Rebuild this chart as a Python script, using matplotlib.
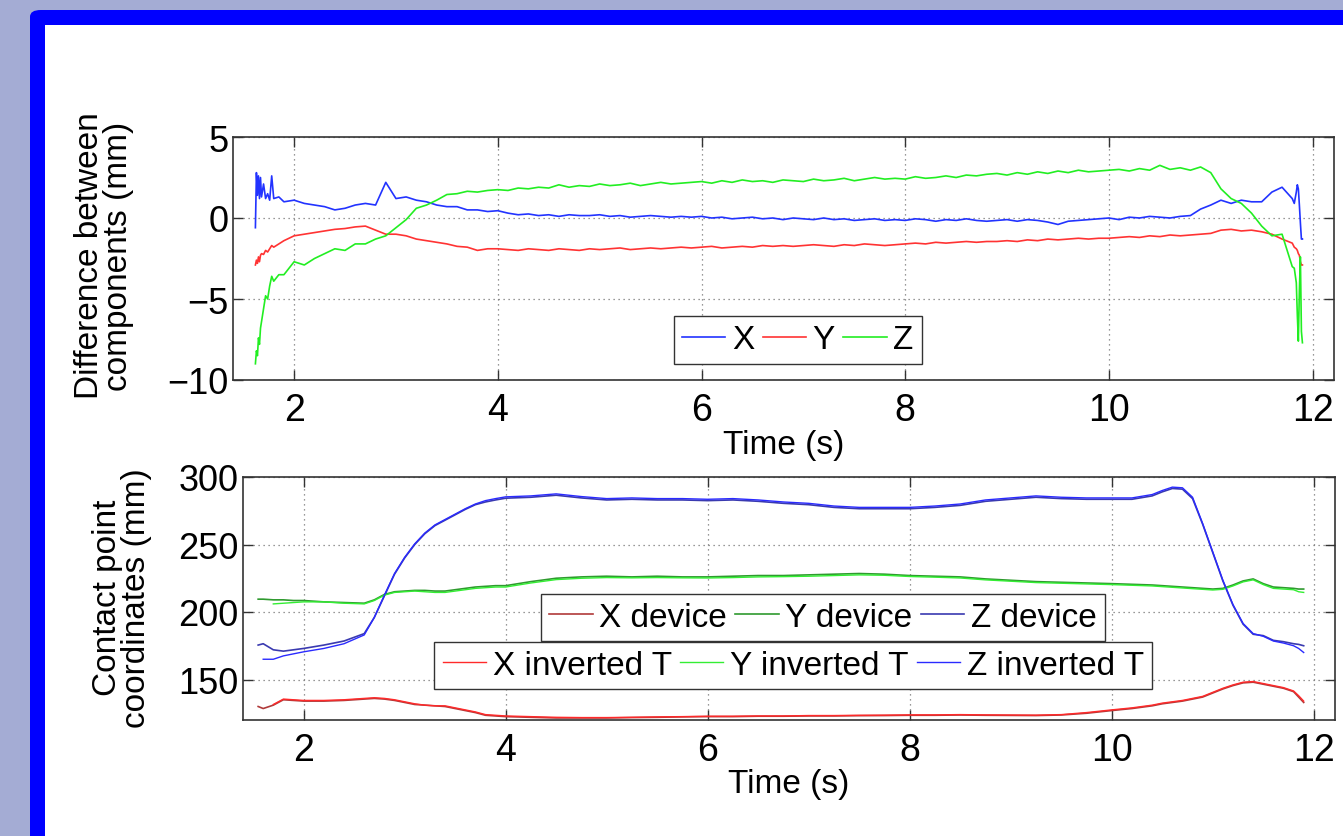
import matplotlib
matplotlib.use("Agg")
import matplotlib.pyplot as plt
from matplotlib.patches import FancyBboxPatch, Rectangle
import numpy as np

plt.rcParams['font.family'] = ['Liberation Sans', 'DejaVu Sans']

# ---- top panel: difference between components (mm) ----
t_start = [1.62, 1.63, 1.64, 1.65, 1.66, 1.67, 1.68, 1.70, 1.72, 1.74, 1.76, 1.78, 1.80, 1.85]
t_mid = [round(1.9 + 0.1 * i, 2) for i in range(100)]   # 1.9 ... 11.8
t_end = [11.82, 11.84, 11.85, 11.86, 11.87, 11.88, 11.89, 11.90]
t_top = t_start + t_mid + t_end

diff_x = ([-0.6, 2.8, 1.4, 2.6, 1.2, 2.5, 1.3, 2.1, 1.2, 1.5, 1.1, 2.6, 1.2, 1.3]
          + [1.0, 1.1, 0.9, 0.8, 0.7, 0.5, 0.6, 0.8, 0.9, 0.8,
             2.2, 1.2, 1.3, 1.1, 1.0, 0.8, 0.7, 0.7, 0.5, 0.5,
             0.4, 0.45, 0.3, 0.2, 0.25, 0.15, 0.2, 0.1, 0.2, 0.15,
             0.15, 0.2, 0.1, 0.15, 0.05, 0.1, 0.15, 0.1, 0.05, 0.1,
             0.05, 0.1, 0.0, 0.05, -0.05, 0.0, 0.05, -0.05, 0.0, -0.1,
             0.0, -0.05, -0.1, 0.0, -0.1, -0.05, -0.15, -0.1, -0.05, -0.15,
             -0.1, -0.15, -0.05, -0.1, -0.2, -0.1, -0.15, -0.05, -0.15, -0.2,
             -0.15, -0.1, -0.2, -0.1, -0.15, -0.25, -0.4, -0.2, -0.15, -0.1,
             -0.05, 0.0, -0.1, 0.05, 0.0, 0.1, 0.05, 0.0, 0.1, 0.15,
             0.55, 0.8, 1.1, 0.9, 1.1, 1.0, 1.0, 1.6, 1.9, 1.2]
          + [0.9, 1.6, 2.05, 1.8, 0.8, -0.3, -1.3, -1.3])

diff_y = ([-2.9, -2.6, -2.8, -2.4, -2.7, -2.3, -2.2, -2.25, -2.0, -2.1, -1.9, -1.7, -1.8, -1.6]
          + [-1.4, -1.1, -1.0, -0.9, -0.8, -0.7, -0.65, -0.55, -0.5, -0.75,
             -1.0, -1.0, -1.1, -1.3, -1.4, -1.5, -1.6, -1.75, -1.8, -2.0,
             -1.9, -1.9, -1.95, -2.0, -1.9, -1.95, -2.0, -1.9, -1.95, -2.0,
             -1.9, -1.95, -1.9, -1.85, -1.95, -1.9, -1.85, -1.9, -1.85, -1.8,
             -1.85, -1.8, -1.75, -1.85, -1.8, -1.75, -1.8, -1.7, -1.75, -1.7,
             -1.75, -1.7, -1.65, -1.7, -1.75, -1.65, -1.7, -1.6, -1.65, -1.7,
             -1.65, -1.6, -1.55, -1.6, -1.5, -1.55, -1.5, -1.45, -1.5, -1.45,
             -1.45, -1.4, -1.45, -1.35, -1.4, -1.3, -1.35, -1.3, -1.25, -1.3,
             -1.25, -1.25, -1.2, -1.15, -1.2, -1.1, -1.15, -1.05, -1.1, -1.05,
             -1.0, -0.95, -0.75, -0.7, -0.8, -0.75, -0.85, -1.0, -1.3, -1.55]
          + [-1.8, -1.9, -2.0, -2.2, -2.3, -2.7, -2.9, -2.9])

diff_z = ([-9.0, -8.2, -8.5, -7.4, -7.8, -6.8, -6.4, -5.6, -4.8, -5.0, -4.2, -3.6, -3.9, -3.5]
          + [-3.5, -2.7, -2.9, -2.5, -2.2, -1.9, -2.0, -1.6, -1.6, -1.3,
             -1.1, -0.6, -0.1, 0.6, 0.8, 1.1, 1.45, 1.5, 1.65, 1.6,
             1.7, 1.75, 1.7, 1.85, 1.8, 1.9, 1.85, 2.05, 1.9, 2.0,
             1.95, 2.1, 2.0, 2.05, 2.15, 2.0, 2.1, 2.2, 2.1, 2.15,
             2.2, 2.25, 2.15, 2.3, 2.2, 2.35, 2.25, 2.3, 2.2, 2.35,
             2.3, 2.25, 2.4, 2.3, 2.35, 2.45, 2.3, 2.4, 2.5, 2.4,
             2.45, 2.4, 2.55, 2.45, 2.5, 2.6, 2.5, 2.65, 2.6, 2.7,
             2.75, 2.65, 2.8, 2.7, 2.85, 2.75, 2.9, 2.8, 2.95, 2.85,
             2.9, 2.95, 3.0, 2.9, 3.05, 2.95, 3.25, 3.0, 3.1, 2.95,
             3.15, 2.8, 1.8, 1.2, 0.9, 0.3, -0.5, -1.1, -1.0, -3.0]
          + [-3.1, -4.0, -6.0, -7.6, -4.5, -2.4, -7.0, -7.7])

# ---- bottom panel: contact point coordinates (mm) ----
t_bot = [1.55, 1.6, 1.7, 1.8, 1.9, 2.0, 2.2, 2.4, 2.6, 2.7, 2.8, 2.9, 3.0,
         3.1, 3.2, 3.3, 3.4, 3.5, 3.6, 3.7, 3.8, 3.9, 4.0,
         4.25, 4.5, 4.75, 5.0, 5.25, 5.5, 5.75, 6.0, 6.25, 6.5, 6.75, 7.0,
         7.25, 7.5, 7.75, 8.0, 8.25, 8.5, 8.75, 9.0, 9.25, 9.5, 9.75, 10.0,
         10.2, 10.4, 10.5, 10.6, 10.7, 10.8, 10.9, 11.0,
         11.1, 11.2, 11.3, 11.4, 11.5, 11.6, 11.7, 11.8, 11.85, 11.9]

x_device = [130, 128.5, 131, 135, 134.5, 134, 134, 134.5, 135.5, 136, 135.5, 134.5, 133,
            131.5, 131, 130.5, 130, 128.5, 127, 125.5, 123.5, 123, 122.5,
            122, 121.5, 121.5, 121.5, 121.8, 122, 122.3, 122.5, 122.5, 122.8, 122.8, 123,
            123, 123.2, 123.3, 123.5, 123.5, 123.7, 123.5, 123.4, 123.3, 123.7, 125, 127,
            128.5, 130.5, 132, 133, 134, 135.5, 137, 140,
            143, 145.5, 147.5, 148, 146.5, 145, 143.5, 141, 137, 133]
y_device = [209.5, 209.5, 209, 209, 208.5, 208.5, 207.5, 207, 206.5, 209, 213, 215, 215.5,
            216, 216, 215.5, 215.5, 216.5, 217.5, 218.5, 219, 219.5, 219.5,
            222.5, 225, 226, 226.5, 226, 226.5, 226, 226, 226.5, 227, 227, 227.5,
            228, 228.5, 228, 227, 226.5, 226, 224.5, 223.5, 222.5, 222, 221.5, 221,
            220.5, 220, 219.5, 219, 218.5, 218, 217.5, 217,
            217.5, 220, 223, 224.5, 221, 218.5, 218, 217.5, 217, 217]
z_device = [175.5, 176.5, 172, 171, 172, 173, 175.5, 178.5, 184, 196, 212, 228, 240,
            250, 258, 264, 268, 272, 276, 279.5, 281.5, 283, 284.3,
            285, 286.5, 284.5, 283, 283.5, 283, 283, 282.5, 283, 282, 280.5, 279.5,
            277.5, 276.5, 276.5, 276.5, 277.5, 279, 282, 283.5, 285, 284, 283.5, 283.5,
            283.5, 286, 289, 291.5, 291, 284, 265, 244,
            223, 205, 191, 183.5, 182.5, 179, 178, 176.5, 176, 175]

x_inverted = [np.nan, np.nan, 131.5, 135.5, 135, 134.5, 134.5, 135, 136, 136.5, 136, 135, 133.5,
              132, 131, 130.5, 130.5, 129, 127.5, 126, 124, 123.5, 123,
              122.5, 122, 121.8, 121.8, 122, 122.3, 122.5, 122.8, 122.8, 123, 123, 123.3,
              123.3, 123.5, 123.6, 123.8, 123.8, 124, 123.8, 123.7, 123.6, 124, 125.5, 127.5,
              129, 131, 132.5, 133.5, 134.5, 136, 137.5, 140.5,
              143.5, 146, 148, 148.5, 147, 145.5, 144, 141.5, 138, 134]
y_inverted = [np.nan, np.nan, 206, 206.5, 207, 207.5, 207.5, 206.5, 206, 208.5, 212.5, 214.5, 215,
              215.5, 215, 214.5, 214.5, 215.5, 216.5, 217.5, 218, 218.5, 218.5,
              221.5, 224, 225, 225.5, 225.3, 225.5, 225.3, 225.2, 225.5, 226, 226.2, 226.5,
              227, 227.5, 227.2, 226.3, 225.8, 225.2, 223.8, 222.8, 221.8, 221.3, 220.8, 220.3,
              219.8, 219.3, 218.8, 218.3, 217.8, 217.3, 216.8, 216.3,
              216.8, 219.3, 222.3, 223.8, 220.3, 217.5, 217, 216.5, 215, 214.5]
z_inverted = [np.nan, 165, 165, 167.5, 169, 170.5, 173, 176.5, 183, 196, 212.5, 228.5, 240.5,
              250.5, 258.5, 264.5, 268.5, 272.5, 276.5, 280, 282.5, 284, 285.3,
              286, 287.5, 285.5, 284, 284.5, 284, 284, 283.5, 284, 283, 281.5, 280.5,
              278.5, 277.5, 277.5, 277.5, 278.5, 280, 283, 284.5, 286, 285, 284.5, 284.5,
              284.5, 287, 290, 292.5, 292, 285, 265.5, 244.5,
              223.5, 205.5, 191.5, 184, 182, 178.5, 177, 175, 173, 170]

time_ticks = [2, 4, 6, 8, 10, 12]

# colours
c_top = ['#2233ff', '#ff3333', '#22ee22']
c_dev = ['#b03a3a', '#2f9a2f', '#3a3ab0']
c_inv = ['#ff2a2a', '#33ee33', '#2a2aff']

fig = plt.figure(figsize=(13.43, 8.37), dpi=100)
fig.patch.set_facecolor('#a4acd4')

W, H = 1343.0, 837.0
frame = FancyBboxPatch((30 / W, -0.1), 1.2, 1 - 11 / H + 0.1,
                       boxstyle='round,pad=0,rounding_size=0.008',
                       transform=fig.transFigure, facecolor='#0000ff',
                       edgecolor='none', zorder=-5)
fig.patches.append(frame)
fig.patches.append(Rectangle((45 / W, -0.1), 1.2, 1 - 26 / H + 0.1,
                             transform=fig.transFigure, facecolor='white',
                             edgecolor='none', zorder=-4))


def style_axes(ax):
    ax.set_xlim(1.40, 12.21)
    ax.set_xticks(time_ticks)
    ax.grid(True, color='#777777', linestyle=(0, (1, 3)), linewidth=0.9)
    ax.tick_params(direction='in', length=7, width=1, color='#333333',
                   top=True, right=True)
    ax.tick_params(axis='x', labelsize=27, pad=9)
    ax.tick_params(axis='y', labelsize=26, pad=3)
    for s in ax.spines.values():
        s.set_color('#333333')
        s.set_linewidth(1.2)


leg_kw = dict(loc='center', ncol=3, fontsize=24, handlelength=1.3, handletextpad=0.2,
              columnspacing=0.25, borderpad=0.25, fancybox=False, framealpha=1,
              edgecolor='#333333')

# top
ax1 = fig.add_axes([233 / W, 1 - 381 / H, (1334 - 233) / W, (381 - 138) / H])
ax1.plot(t_top, diff_x, color=c_top[0], lw=1.2, label='X')
ax1.plot(t_top, diff_y, color=c_top[1], lw=1.2, label='Y')
ax1.plot(t_top, diff_z, color=c_top[2], lw=1.2, label='Z')
ax1.set_ylim(-10, 5)
ax1.set_yticks([-10, -5, 0, 5])
style_axes(ax1)
leg = ax1.legend(bbox_to_anchor=(0.513, 0.165), **leg_kw)
leg.get_frame().set_linewidth(1.0)

# bottom
ax2 = fig.add_axes([243 / W, 1 - 721 / H, (1335 - 243) / W, (721 - 478) / H])
dev_lines = []
for vals, c, name in zip([x_device, y_device, z_device], c_dev, ['X', 'Y', 'Z']):
    ln, = ax2.plot(t_bot, vals, color=c, lw=1.2, label=name + ' device')
    dev_lines.append(ln)
inv_lines = []
for vals, c, name in zip([x_inverted, y_inverted, z_inverted], c_inv, ['X', 'Y', 'Z']):
    ln, = ax2.plot(t_bot, vals, color=c, lw=1.0, label=name + ' inverted T')
    inv_lines.append(ln)
ax2.set_ylim(120, 300)
ax2.set_yticks([150, 200, 250, 300])
style_axes(ax2)
leg1 = ax2.legend(handles=dev_lines, bbox_to_anchor=(0.531, 0.422), **leg_kw)
leg1.get_frame().set_linewidth(1.0)
ax2.add_artist(leg1)
leg2 = ax2.legend(handles=inv_lines, bbox_to_anchor=(0.504, 0.224), **leg_kw)
leg2.get_frame().set_linewidth(1.0)

# labels
fig.text(783.5 / W, 1 - 446 / H, 'Time (s)', ha='center', va='center', fontsize=24)
fig.text(789 / W, 1 - 785 / H, 'Time (s)', ha='center', va='center', fontsize=24)
fig.text(104 / W, 1 - 256 / H, 'Difference between\ncomponents (mm)', rotation=90,
         ha='center', va='center', fontsize=24, linespacing=0.95)
fig.text(122 / W, 1 - 598 / H, 'Contact point\ncoordinates (mm)', rotation=90,
         ha='center', va='center', fontsize=24, linespacing=0.95)

fig.savefig('out.png', dpi=100, facecolor=fig.get_facecolor())
